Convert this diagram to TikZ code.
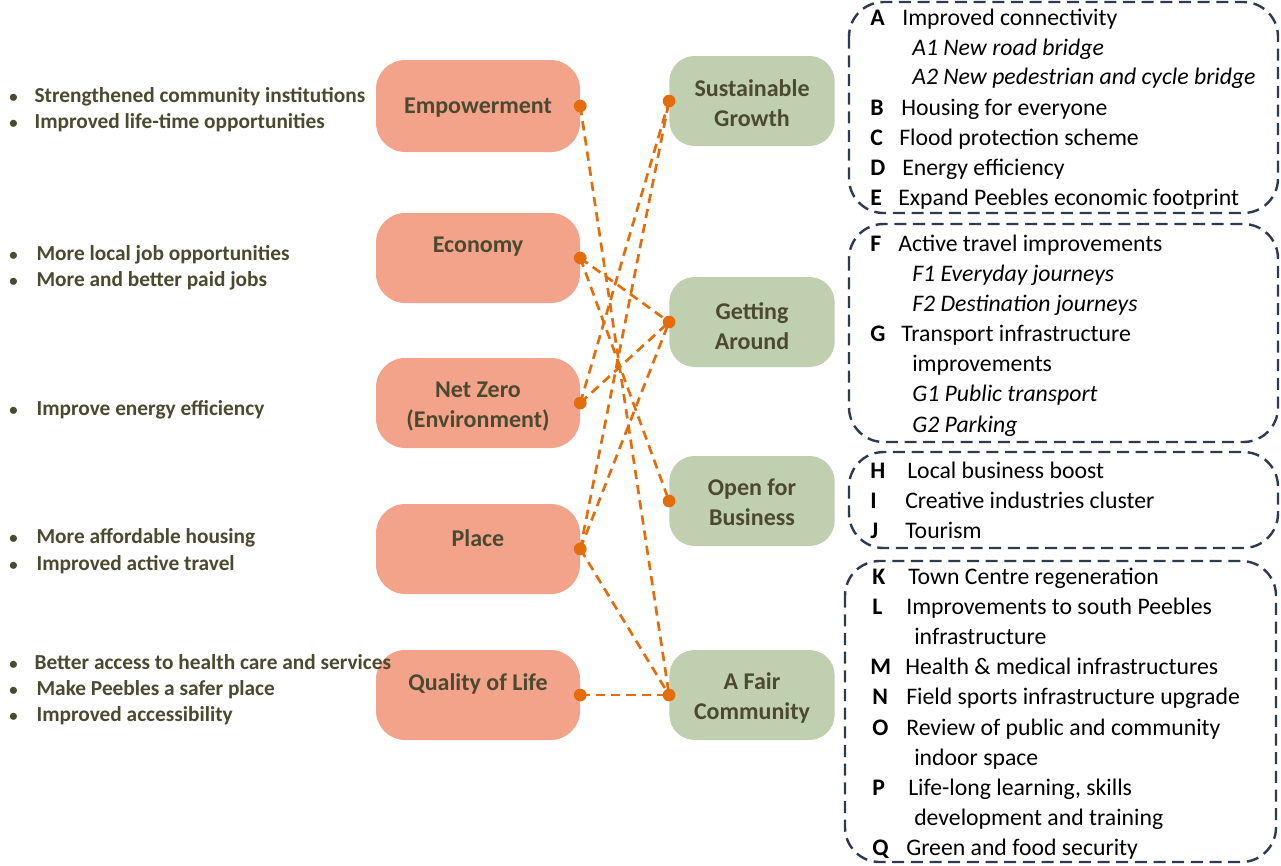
\documentclass[tikz,border=0pt]{standalone}
\usepackage{fontspec}
\setmainfont{Carlito}
\definecolor{salmon}{HTML}{F4A38B}
\definecolor{sage}{HTML}{BFCFB0}
\definecolor{lnor}{HTML}{E46C0A}
\definecolor{olive}{HTML}{4B4A30}
\definecolor{slate}{HTML}{2E3B4E}
\newcommand{\bdot}{{\fontsize{12.5}{12.5}\selectfont•}}
\begin{document}
\begin{tikzpicture}[x=0.75pt,y=-0.75pt,
 pill/.style={fill=salmon, draw=none, rounded corners=22pt, minimum width=153pt, minimum height=67.5pt, inner sep=0pt},
 gpill/.style={fill=sage, draw=none, rounded corners=19pt, minimum width=124pt, minimum height=67.5pt, inner sep=0pt},
 ntext/.style={font=\fontsize{18}{22.5}\selectfont\bfseries, text=olive, align=center},
 link/.style={draw=lnor, line width=2pt, dash pattern=on 7pt off 4.5pt},
 dotn/.style={circle, fill=lnor, inner sep=0pt, minimum size=9.5pt},
 dbox/.style={draw=slate, line width=1.8pt, dash pattern=on 9pt off 5pt, rounded corners=26pt},
 bul/.style={font=\fontsize{16}{20}\selectfont\bfseries, text=olive, anchor=west, inner sep=0pt, text height=0.64em, text depth=0pt, yshift=-2pt},
 lt/.style={font=\fontsize{17.8}{22}\selectfont\bfseries, anchor=west, inner sep=0pt, text height=0.64em, text depth=0pt, yshift=-2.5pt},
 rt/.style={font=\fontsize{17.8}{22}\selectfont, anchor=west, inner sep=0pt, text height=0.64em, text depth=0pt, yshift=-2.5pt},
 irt/.style={rt, font=\fontsize{17.8}{22}\selectfont\itshape}]
\fill[white] (0,0) rectangle (1281,865);
\useasboundingbox (0,0) rectangle (1281,865);

% left pillars
\node[pill, minimum height=69pt] (emp) at (478,106) {};
\node[pill] (eco) at (478,258) {};
\node[pill] (net) at (478,403) {};
\node[pill] (place) at (478,549) {};
\node[pill] (qol) at (478,695) {};
\node[ntext] (empT) at (478,108) {Empowerment};
\node[ntext] (ecoT) at (478,247) {Economy};
\node[ntext] (netT) at (478,407) {Net Zero\\(Environment)};
\node[ntext] (placeT) at (478,538) {Place};
\node[ntext] (qolT) at (478,684) {Quality of Life};

% right themes
\node[gpill] (sus) at (752,101) {};
\node[gpill] (get) at (752,322) {};
\node[gpill] (open) at (752,501) {};
\node[gpill] (fair) at (752,695) {};
\node[ntext] (susT) at (752,103) {Sustainable\\Growth};
\node[ntext] (getT) at (752,326) {Getting\\Around};
\node[ntext] (openT) at (752,502) {Open for\\Business};
\node[ntext] (fairT) at (752,698) {A Fair\\Community};

% links
\draw[link] (emp.east) -- (fair.west);
\draw[link] (eco.east) -- (get.west);
\draw[link] (eco.east) -- (open.west);
\draw[link] (net.east) -- (sus.west);
\draw[link] (net.east) -- (get.west);
\draw[link] (place.east) -- (sus.west);
\draw[link] (place.east) -- (get.west);
\draw[link] (place.east) -- (fair.west);
\draw[link] (qol.east) -- (fair.west);
\node[dotn] (d1) at (emp.east) {};
\node[dotn] (d2) at (eco.east) {};
\node[dotn] (d3) at (net.east) {};
\node[dotn] (d4) at (place.east) {};
\node[dotn] (d5) at (qol.east) {};
\node[dotn] (d6) at (sus.west) {};
\node[dotn] (d7) at (get.west) {};
\node[dotn] (d8) at (open.west) {};
\node[dotn] (d9) at (fair.west) {};

% left bullets
\node[bul] (b1) at (9,96) {\makebox[19pt][l]{\bdot}Strengthened community institutions};
\node[bul] (b2) at (9,122) {\makebox[19pt][l]{\bdot}Improved life-time opportunities};
\node[bul] (b3) at (9,254) {\makebox[20.5pt][l]{\bdot}More local job opportunities};
\node[bul] (b4) at (9,280) {\makebox[20.5pt][l]{\bdot}More and better paid jobs};
\node[bul] (b5) at (9,409) {\makebox[20.5pt][l]{\bdot}Improve energy efficiency};
\node[bul] (b6) at (9,537) {\makebox[20.5pt][l]{\bdot}More affordable housing};
\node[bul] (b7) at (9,564) {\makebox[20.5pt][l]{\bdot}Improved active travel};
\node[bul] (b8) at (9,663) {\makebox[19pt][l]{\bdot}Better access to health care and services};
\node[bul] (b9) at (9,689) {\makebox[20.5pt][l]{\bdot}Make Peebles a safer place};
\node[bul] (b10) at (9,715) {\makebox[20.5pt][l]{\bdot}Improved accessibility};

% dashed boxes
\draw[dbox] (849,2) rectangle (1278,213);
\draw[dbox] (849,224) rectangle (1278,442);
\draw[dbox] (849,452) rectangle (1278,548);
\draw[dbox] (845,561) rectangle (1276,862);

% box 1
\node[lt] (lA) at (870,18) {A};  \node[rt] (tA) at (902,18) {Improved connectivity};
\node[irt] (tA1) at (912,48) {A1 New road bridge};
\node[irt] (tA2) at (912,77) {A2 New pedestrian and cycle bridge};
\node[lt] (lB) at (870,108) {B}; \node[rt] (tB) at (901,108) {Housing for everyone};
\node[lt] (lC) at (870,138) {C}; \node[rt] (tC) at (899,138) {Flood protection scheme};
\node[lt] (lD) at (870,168) {D}; \node[rt] (tD) at (902,168) {Energy efficiency};
\node[lt] (lE) at (870,198) {E}; \node[rt] (tE) at (898,198) {Expand Peebles economic footprint};
% box 2
\node[lt] (lF) at (870,244) {F}; \node[rt] (tF) at (898,244) {Active travel improvements};
\node[irt] (tF1) at (912,274) {F1 Everyday journeys};
\node[irt] (tF2) at (912,304) {F2 Destination journeys};
\node[lt] (lG) at (870,334) {G}; \node[rt] (tG) at (901,334) {Transport infrastructure};
\node[rt] (tGb) at (912,364) {improvements};
\node[irt] (tG1) at (912,394) {G1 Public transport};
\node[irt] (tG2) at (912,425) {G2 Parking};
% box 3
\node[lt] (lH) at (870,471) {H}; \node[rt] (tH) at (907,471) {Local business boost};
\node[lt] (lI) at (870,501) {I}; \node[rt] (tI) at (905,501) {Creative industries cluster};
\node[lt] (lJ) at (870,531) {J}; \node[rt] (tJ) at (905,531) {Tourism};
% box 4
\node[lt] (lK) at (872,577) {K}; \node[rt] (tK) at (908,577) {Town Centre regeneration};
\node[lt] (lL) at (872,607) {L}; \node[rt] (tL) at (906,607) {Improvements to south Peebles};
\node[rt] (tLb) at (914,637) {infrastructure};
\node[lt] (lM) at (870,667) {M}; \node[rt] (tM) at (905,667) {Health \& medical infrastructures};
\node[lt] (lN) at (872,697) {N}; \node[rt] (tN) at (906,697) {Field sports infrastructure upgrade};
\node[lt] (lO) at (872,728) {O}; \node[rt] (tO) at (906,728) {Review of public and community};
\node[rt] (tOb) at (914,758) {indoor space};
\node[lt] (lP) at (872,788) {P}; \node[rt] (tP) at (908,788) {Life-long learning, skills};
\node[rt] (tPb) at (914,818) {development and training};
\node[lt] (lQ) at (872,848) {Q}; \node[rt] (tQ) at (906,848) {Green and food security};
\end{tikzpicture}
\end{document}
